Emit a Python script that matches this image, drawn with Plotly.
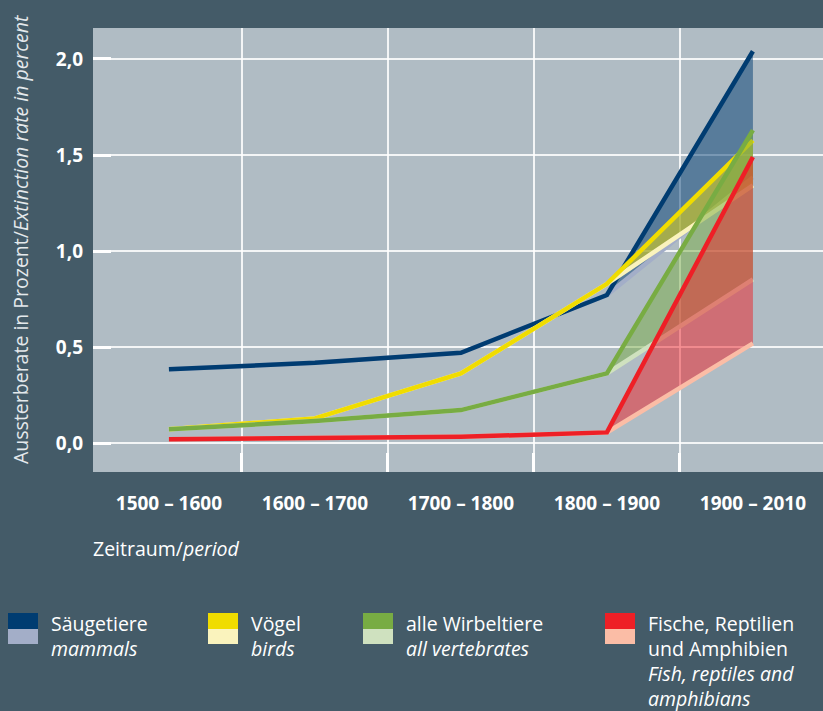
import plotly.graph_objects as go

# ---------------- data ----------------
periods = ["1500 – 1600", "1600 – 1700", "1700 – 1800", "1800 – 1900", "1900 – 2010"]

mammals_high = [0.386, 0.419, 0.471, 0.772, 2.04]
mammals_low = [0.386, 0.419, 0.471, 0.772, 1.384]
birds_high = [0.073, 0.13, 0.364, 0.83, 1.576]
birds_low = [0.073, 0.13, 0.364, 0.83, 1.342]
vert_high = [0.073, 0.116, 0.173, 0.364, 1.63]
vert_low = [0.073, 0.116, 0.173, 0.364, 0.853]
fish_high = [0.021, 0.026, 0.034, 0.057, 1.49]
fish_low = [0.021, 0.026, 0.034, 0.057, 0.52]

y_ticks = [0.0, 0.5, 1.0, 1.5, 2.0]
y_tick_labels = ["0,0", "0,5", "1,0", "1,5", "2,0"]

legend_lines = [
    ["Säugetiere", "<i>mammals</i>"],
    ["Vögel", "<i>birds</i>"],
    ["alle Wirbeltiere", "<i>all vertebrates</i>"],
    ["Fische, Reptilien", "und Amphibien", "<i>Fish, reptiles and</i>", "<i>amphibians</i>"],
]

# ---------------- styles ----------------
BG = "#445b68"
PLOT_BG = "#b0bcc4"
FONT = "Open Sans"
dark_colors = ["#003c71", "#f0dc00", "#78ac43", "#ee1f26"]
light_colors = ["#a3aec8", "#faf3bd", "#cfe1bf", "#fbbda6"]
fill_colors = ["rgba(0,60,113,0.5)", "rgba(240,220,0,0.5)",
               "rgba(120,172,67,0.5)", "rgba(238,31,38,0.5)"]

series = [
    (mammals_low, mammals_high),
    (birds_low, birds_high),
    (vert_low, vert_high),
    (fish_low, fish_high),
]

x_idx = list(range(len(periods)))

fig = go.Figure()
for i, (low, high) in enumerate(series):
    fig.add_trace(go.Scatter(
        x=x_idx, y=low, mode="lines",
        line=dict(color=light_colors[i], width=4.5),
        hoverinfo="skip", showlegend=False))
    fig.add_trace(go.Scatter(
        x=x_idx, y=high, mode="lines",
        line=dict(color=dark_colors[i], width=4.5),
        fill="tonexty", fillcolor=fill_colors[i],
        hoverinfo="skip", showlegend=False))

W, H = 823, 711
L, R, T, B = 93, 0, 28, 239
pw, ph = W - L - R, H - T - B


def px(xp):
    return (xp - L) / pw


def py(yp):
    return (H - B - yp) / ph


fig.update_layout(
    width=W, height=H,
    margin=dict(l=L, r=R, t=T, b=B, pad=0),
    paper_bgcolor=BG, plot_bgcolor=PLOT_BG,
    font=dict(family=FONT, color="white"),
    xaxis=dict(
        range=[-0.52, 4.48],
        tickmode="array", tickvals=x_idx, ticktext=periods,
        ticks="", showgrid=False, zeroline=False, showline=False,
        tickfont=dict(family=FONT, size=19, color="white", weight="bold"),
        ticklabelstandoff=18,
        minor=dict(tickmode="array", tickvals=[0.5, 1.5, 2.5, 3.5],
                   showgrid=True, gridcolor="rgba(255,255,255,0.85)", gridwidth=1.5,
                   ticks="inside", ticklen=19, tickwidth=3, tickcolor="white"),
    ),
    yaxis=dict(
        range=[-0.149, 2.161],
        tickmode="array", tickvals=y_ticks, ticktext=y_tick_labels,
        ticks="inside", ticklen=18, tickwidth=3, tickcolor="white",
        showgrid=True, gridcolor="rgba(255,255,255,0.85)", gridwidth=1.5,
        zeroline=False, showline=False,
        tickfont=dict(family=FONT, size=19, color="white", weight="bold"),
        ticklabelstandoff=9,
    ),
)

annotations = []
# y-axis title
annotations.append(dict(
    xref="paper", yref="paper", x=px(20), y=py(239),
    text="Aussterberate in Prozent/<i>Extinction rate in percent</i>",
    textangle=-90, showarrow=False, xanchor="center", yanchor="middle",
    font=dict(family=FONT, size=19.5, color="#e4e9ec")))
# x-axis title
annotations.append(dict(
    xref="paper", yref="paper", x=px(91), y=py(548),
    text="Zeitraum/<i>period</i>", showarrow=False,
    xanchor="left", yanchor="middle",
    font=dict(family=FONT, size=19.5, color="white")))

# legend
sw_x = [8, 208, 363, 605]
shapes = []
for i, lines in enumerate(legend_lines):
    x0 = sw_x[i]
    shapes.append(dict(type="rect", xref="paper", yref="paper",
                       x0=px(x0), x1=px(x0 + 30), y0=py(629), y1=py(613),
                       fillcolor=dark_colors[i], line=dict(width=0)))
    shapes.append(dict(type="rect", xref="paper", yref="paper",
                       x0=px(x0), x1=px(x0 + 30), y0=py(644), y1=py(629),
                       fillcolor=light_colors[i], line=dict(width=0)))
    for j, t in enumerate(lines):
        annotations.append(dict(
            xref="paper", yref="paper", x=px(x0 + 41), y=py(623 + 25 * j),
            text=t, showarrow=False, xanchor="left", yanchor="middle",
            font=dict(family=FONT, size=19.5, color="white")))

fig.update_layout(annotations=annotations, shapes=shapes)

fig.write_html(
    "out.html",
    config={"displayModeBar": False},
    post_script="document.body.style.margin='0';document.body.style.padding='0';"
                "document.body.style.background='" + BG + "';"
                "document.documentElement.style.overflow='hidden';",
)
